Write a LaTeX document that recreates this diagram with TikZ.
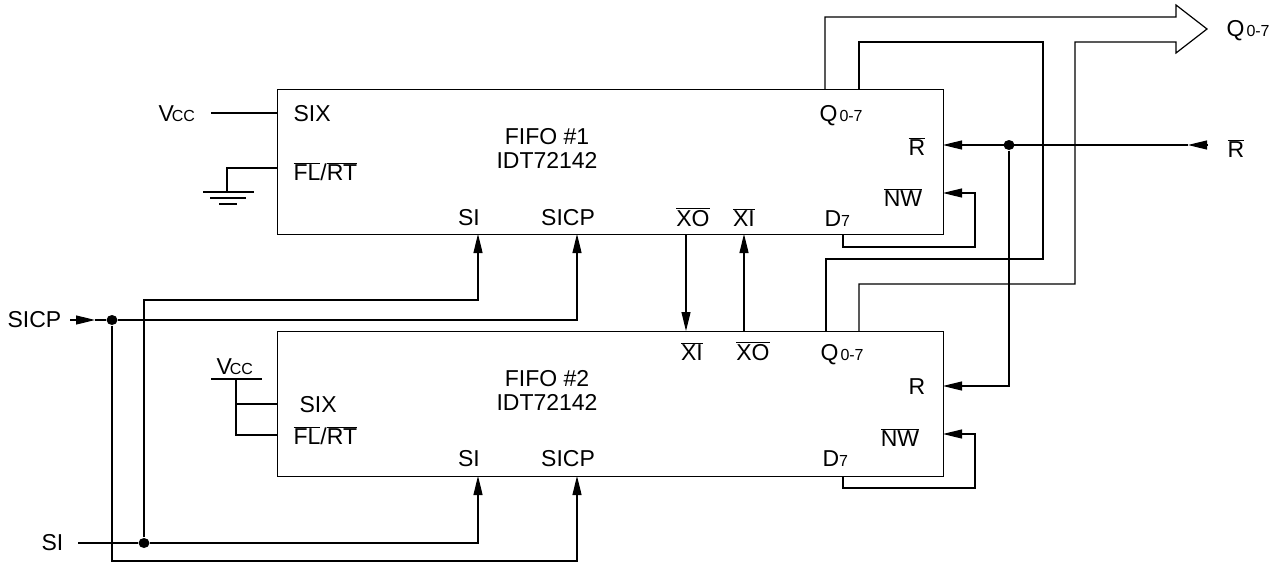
\documentclass[tikz,border=0pt]{standalone}
\usepackage{fontspec}
\setmainfont{Liberation Sans}
\usetikzlibrary{arrows.meta, positioning, calc, shapes.geometric}

\newcommand{\ovl}[1]{$\overline{\mbox{#1}}$}
\newcommand{\pinsub}[1]{{\fontsize{16}{18}\selectfont #1}}

\begin{document}
\begin{tikzpicture}[x=1pt, y=-1pt, line width=1.2pt,
    pin/.style={font=\fontsize{23}{27}\selectfont, inner sep=0pt, anchor=base},
    chip/.style={draw, line width=1.2pt, minimum width=666pt, minimum height=145pt, anchor=north west, inner sep=0pt},
    arr/.style={-{Triangle[length=19pt, width=9pt]}},
    dot/.style={ellipse, fill, inner sep=0pt, minimum width=11pt, minimum height=10pt}]
    \useasboundingbox (0,0) rectangle (1279,562);

    % Chips
    \node[chip] (fifoA) at (277,89) {};
    \node[chip] (fifoB) at (277,331) {};

    % Pins of FIFO #1
    \coordinate (a-six) at (277,113);
    \coordinate (a-fl) at (277,168);
    \coordinate (a-si) at (478,234);
    \coordinate (a-sicp) at (577,234);
    \coordinate (a-xo) at (686,234);
    \coordinate (a-xi) at (744,234);
    \coordinate (a-d7) at (843,234);
    \coordinate (a-q1) at (825,89);
    \coordinate (a-q2) at (859,89);
    \coordinate (a-r) at (943,145);
    \coordinate (a-nw) at (943,193);

    % Pins of FIFO #2
    \coordinate (b-six) at (277,404);
    \coordinate (b-fl) at (277,435);
    \coordinate (b-si) at (478,476);
    \coordinate (b-sicp) at (577,476);
    \coordinate (b-xi) at (686,331);
    \coordinate (b-xo) at (744,331);
    \coordinate (b-d7) at (843,476);
    \coordinate (b-q1) at (826,331);
    \coordinate (b-q2) at (859,331);
    \coordinate (b-r) at (943,386);
    \coordinate (b-nw) at (943,434);

    % Texts of FIFO #1
    \node[pin, anchor=base west] (a-sixL) at (293,121) {SIX};
    \node[pin, anchor=base west] (a-flL) at (293,180) {\ovl{FL}/\ovl{RT}};
    \node[pin] (a-name) at (547,144) {FIFO \#1};
    \node[pin] (a-part) at (547,168) {IDT72142};
    \node[pin] (a-siL) at (469,225) {SI};
    \node[pin] (a-sicpL) at (568,225) {SICP};
    \node[pin] (a-xoL) at (693,226) {\ovl{XO}};
    \node[pin] (a-xiL) at (744,226) {\ovl{XI}};
    \node[pin, anchor=base west] (a-d7L) at (824,226) {D\pinsub{7}};
    \node[pin, anchor=base west] (a-qL) at (819,121) {Q\kern2pt\pinsub{0-7}};
    \node[pin] (a-rL) at (917,155) {\ovl{R}};
    \node[pin] (a-nwL) at (903,206) {\ovl{NW}};

    % Texts of FIFO #2
    \node[pin, anchor=base west] (b-sixL) at (299,412) {SIX};
    \node[pin, anchor=base west] (b-flL) at (293,444) {\ovl{FL}/\ovl{RT}};
    \node[pin] (b-name) at (547,386) {FIFO \#2};
    \node[pin] (b-part) at (547,410) {IDT72142};
    \node[pin] (b-xiL) at (692,360) {\ovl{XI}};
    \node[pin] (b-xoL) at (753,360) {\ovl{XO}};
    \node[pin, anchor=base west] (b-qL) at (820,360) {Q\kern2pt\pinsub{0-7}};
    \node[pin] (b-rL) at (917,394) {R};
    \node[pin] (b-nwL) at (900,446) {\ovl{NW}};
    \node[pin, anchor=base west] (b-d7L) at (822,466) {D\pinsub{7}};
    \node[pin] (b-siL) at (469,466) {SI};
    \node[pin] (b-sicpL) at (568,466) {SICP};

    % Outside signals
    \node[pin, anchor=base west] (vccA) at (158,121) {V\kern-2pt\pinsub{CC}};
    \node[pin, anchor=base west] (vccB) at (216,374) {V\kern-2pt\pinsub{CC}};
    \node[pin, anchor=base west] (sicpIn) at (7,327) {SICP};
    \node[pin, anchor=base west] (siIn) at (41,550) {SI};
    \node[pin, anchor=base west] (qOut) at (1226,36) {Q\kern2pt\pinsub{0-7}};
    \node[pin, anchor=base west] (rIn) at (1227,157) {\ovl{R}};

    % Junctions
    \node[dot] (jSicp) at (112,320) {};
    \node[dot] (jSi) at (144,543) {};
    \node[dot] (jR) at (1009,145) {};
    \coordinate (sicpStart) at (70,320);
    \coordinate (sicpTip) at (95,320);
    \coordinate (sicpLow) at (112,561);
    \coordinate (siStart) at (78,543);
    \coordinate (siHigh) at (144,300);
    \coordinate (rStart) at (1208,145);
    \coordinate (rTip) at (1188,145);
    \coordinate (busTip) at (1207,29);

    % Tie-offs of FIFO #1
    \draw (211,113) -- (a-six);
    \draw (a-fl) -| (227,192);
    \draw (203,192) -- (254,192);
    \draw (210,198) -- (246,198);
    \draw (219,204) -- (237,204);

    % Tie-offs of FIFO #2
    \draw (211,379) -- (262,379);
    \draw (236,379) |- (b-fl);
    \draw (236,404) -- (b-six);

    % Clock
    \draw[arr] (sicpStart) -- (sicpTip);
    \draw (sicpTip) -- (jSicp);
    \draw[arr] (jSicp) -| (a-sicp);
    \draw[arr] (jSicp) -- (sicpLow) -| (b-sicp);

    % Serial in
    \draw (siStart) -- (jSi);
    \draw[arr] (jSi) -| (b-si);
    \draw[arr] (jSi) -- (siHigh) -| (a-si);

    % Expansion
    \draw[arr] (a-xo) -- (b-xi);
    \draw[arr] (b-xo) -- (a-xi);

    % Output bus
    \draw (a-q1) |- (1176,17) -- (1176,5) -- (busTip) -- (1176,53) -- (1176,42) -| (1075,284) -| (b-q2);
    \draw (a-q2) |- (1043,42) -- (1043,259) -| (b-q1);

    % Read
    \draw[arr] (rStart) -- (rTip);
    \draw[arr] (rTip) -- (a-r);
    \draw[arr] (jR) |- (b-r);

    % Write loops
    \draw[arr] (a-d7) |- (975,247) |- (a-nw);
    \draw[arr] (b-d7) |- (975,488) |- (b-nw);
\end{tikzpicture}
\end{document}
